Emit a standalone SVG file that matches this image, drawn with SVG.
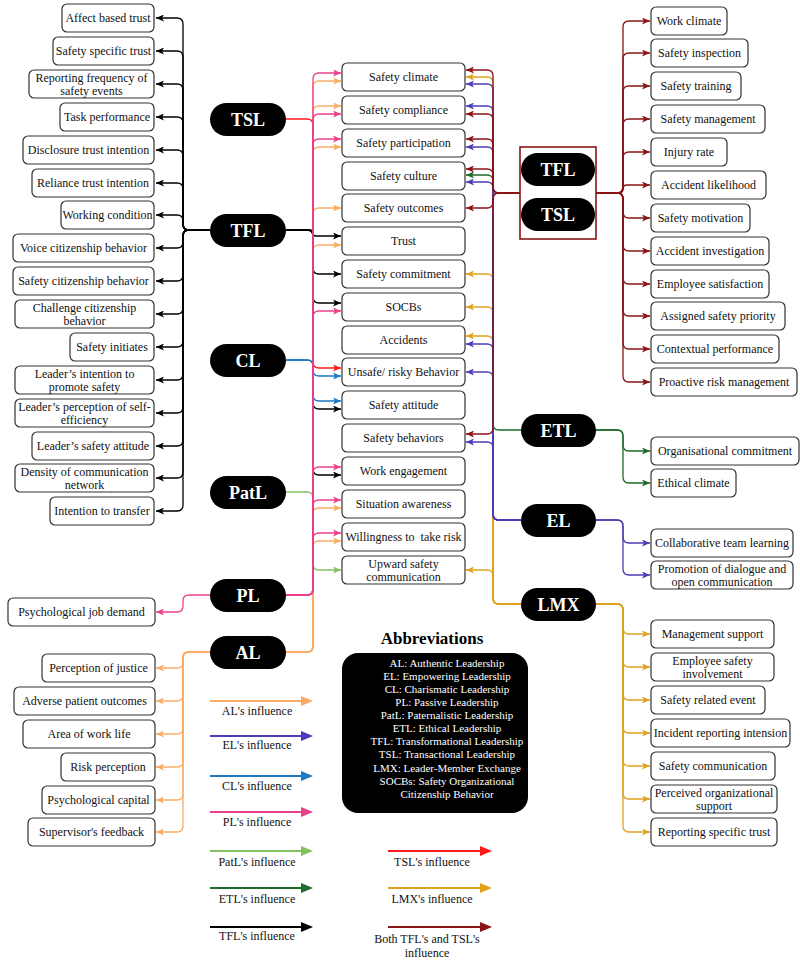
<svg xmlns="http://www.w3.org/2000/svg" width="800" height="960" viewBox="0 0 800 960" font-family="Liberation Serif, Times New Roman, serif">
<style>
.bx{fill:#fff;stroke:#333;stroke-width:1.2}
.t{font-family:Liberation Serif,serif;font-size:12px;fill:#111;text-anchor:middle}
.pill{fill:#000}
.pt{font-family:Liberation Serif,serif;font-size:18px;font-weight:bold;fill:#fff;text-anchor:middle}
.e{fill:none;stroke-width:1.3}
.k{stroke:#000}.r{stroke:#ff1a1a}.b{stroke:#1b78c2}.g{stroke:#82c062}.p{stroke:#ec3f8c}.o{stroke:#fbac64}
.i{stroke:#4b3db5}.dg{stroke:#1e6b2b}.y{stroke:#e0a11e}.dr{stroke:#8b1414}
.lg{fill:none;stroke-width:2}
.ab{font-family:Liberation Serif,serif;font-size:11px;fill:#fff;text-anchor:middle}
</style>
<defs>
<marker id="mk" viewBox="0 0 8 7" refX="8" refY="3.5" markerWidth="8" markerHeight="7" markerUnits="userSpaceOnUse" orient="auto"><path d="M0,0 L8,3.5 L0,7 L2,3.5 Z" fill="#000"/></marker>
<marker id="mr" viewBox="0 0 8 7" refX="8" refY="3.5" markerWidth="8" markerHeight="7" markerUnits="userSpaceOnUse" orient="auto"><path d="M0,0 L8,3.5 L0,7 L2,3.5 Z" fill="#ff1a1a"/></marker>
<marker id="mb" viewBox="0 0 8 7" refX="8" refY="3.5" markerWidth="8" markerHeight="7" markerUnits="userSpaceOnUse" orient="auto"><path d="M0,0 L8,3.5 L0,7 L2,3.5 Z" fill="#1b78c2"/></marker>
<marker id="mg" viewBox="0 0 8 7" refX="8" refY="3.5" markerWidth="8" markerHeight="7" markerUnits="userSpaceOnUse" orient="auto"><path d="M0,0 L8,3.5 L0,7 L2,3.5 Z" fill="#82c062"/></marker>
<marker id="mp" viewBox="0 0 8 7" refX="8" refY="3.5" markerWidth="8" markerHeight="7" markerUnits="userSpaceOnUse" orient="auto"><path d="M0,0 L8,3.5 L0,7 L2,3.5 Z" fill="#ec3f8c"/></marker>
<marker id="mo" viewBox="0 0 8 7" refX="8" refY="3.5" markerWidth="8" markerHeight="7" markerUnits="userSpaceOnUse" orient="auto"><path d="M0,0 L8,3.5 L0,7 L2,3.5 Z" fill="#fbac64"/></marker>
<marker id="mi" viewBox="0 0 8 7" refX="8" refY="3.5" markerWidth="8" markerHeight="7" markerUnits="userSpaceOnUse" orient="auto"><path d="M0,0 L8,3.5 L0,7 L2,3.5 Z" fill="#4b3db5"/></marker>
<marker id="mdg" viewBox="0 0 8 7" refX="8" refY="3.5" markerWidth="8" markerHeight="7" markerUnits="userSpaceOnUse" orient="auto"><path d="M0,0 L8,3.5 L0,7 L2,3.5 Z" fill="#1e6b2b"/></marker>
<marker id="my" viewBox="0 0 8 7" refX="8" refY="3.5" markerWidth="8" markerHeight="7" markerUnits="userSpaceOnUse" orient="auto"><path d="M0,0 L8,3.5 L0,7 L2,3.5 Z" fill="#e0a11e"/></marker>
<marker id="mdr" viewBox="0 0 8 7" refX="8" refY="3.5" markerWidth="8" markerHeight="7" markerUnits="userSpaceOnUse" orient="auto"><path d="M0,0 L8,3.5 L0,7 L2,3.5 Z" fill="#8b1414"/></marker>
<marker id="L-o" viewBox="0 0 12 10" refX="10" refY="5" markerWidth="12" markerHeight="10" markerUnits="userSpaceOnUse" orient="auto"><path d="M0,0 L12,5 L0,10 Z" fill="#fbac64"/></marker>
<marker id="L-i" viewBox="0 0 12 10" refX="10" refY="5" markerWidth="12" markerHeight="10" markerUnits="userSpaceOnUse" orient="auto"><path d="M0,0 L12,5 L0,10 Z" fill="#4b3db5"/></marker>
<marker id="L-b" viewBox="0 0 12 10" refX="10" refY="5" markerWidth="12" markerHeight="10" markerUnits="userSpaceOnUse" orient="auto"><path d="M0,0 L12,5 L0,10 Z" fill="#1b78c2"/></marker>
<marker id="L-p" viewBox="0 0 12 10" refX="10" refY="5" markerWidth="12" markerHeight="10" markerUnits="userSpaceOnUse" orient="auto"><path d="M0,0 L12,5 L0,10 Z" fill="#ec3f8c"/></marker>
<marker id="L-g" viewBox="0 0 12 10" refX="10" refY="5" markerWidth="12" markerHeight="10" markerUnits="userSpaceOnUse" orient="auto"><path d="M0,0 L12,5 L0,10 Z" fill="#82c062"/></marker>
<marker id="L-dg" viewBox="0 0 12 10" refX="10" refY="5" markerWidth="12" markerHeight="10" markerUnits="userSpaceOnUse" orient="auto"><path d="M0,0 L12,5 L0,10 Z" fill="#1e6b2b"/></marker>
<marker id="L-k" viewBox="0 0 12 10" refX="10" refY="5" markerWidth="12" markerHeight="10" markerUnits="userSpaceOnUse" orient="auto"><path d="M0,0 L12,5 L0,10 Z" fill="#000"/></marker>
<marker id="L-r" viewBox="0 0 12 10" refX="10" refY="5" markerWidth="12" markerHeight="10" markerUnits="userSpaceOnUse" orient="auto"><path d="M0,0 L12,5 L0,10 Z" fill="#ff1a1a"/></marker>
<marker id="L-y" viewBox="0 0 12 10" refX="10" refY="5" markerWidth="12" markerHeight="10" markerUnits="userSpaceOnUse" orient="auto"><path d="M0,0 L12,5 L0,10 Z" fill="#e0a11e"/></marker>
<marker id="L-dr" viewBox="0 0 12 10" refX="10" refY="5" markerWidth="12" markerHeight="10" markerUnits="userSpaceOnUse" orient="auto"><path d="M0,0 L12,5 L0,10 Z" fill="#8b1414"/></marker>
</defs>
<rect width="800" height="960" fill="#fff"/>

<g id="connectors">
<g class="e k" marker-end="url(#mk)">
<path d="M210,230 H189 Q183,230 183,224 V24 Q183,18 177,18 H156"/>
<path d="M210,230 H189 Q183,230 183,224 V57 Q183,51 177,51 H156"/>
<path d="M210,230 H189 Q183,230 183,224 V90 Q183,84 177,84 H156"/>
<path d="M210,230 H189 Q183,230 183,224 V123 Q183,117 177,117 H156"/>
<path d="M210,230 H189 Q183,230 183,224 V156 Q183,150 177,150 H156"/>
<path d="M210,230 H189 Q183,230 183,224 V189 Q183,183 177,183 H156"/>
<path d="M210,230 H189 Q183,230 183,224 V221 Q183,215 177,215 H156"/>
<path d="M210,230 H189 Q183,230 183,236 V242 Q183,248 177,248 H156"/>
<path d="M210,230 H189 Q183,230 183,236 V275 Q183,281 177,281 H156"/>
<path d="M210,230 H189 Q183,230 183,236 V308 Q183,314 177,314 H156"/>
<path d="M210,230 H189 Q183,230 183,236 V341 Q183,347 177,347 H156"/>
<path d="M210,230 H189 Q183,230 183,236 V374 Q183,380 177,380 H156"/>
<path d="M210,230 H189 Q183,230 183,236 V407 Q183,413 177,413 H156"/>
<path d="M210,230 H189 Q183,230 183,236 V440 Q183,446 177,446 H156"/>
<path d="M210,230 H189 Q183,230 183,236 V472 Q183,478 177,478 H156"/>
<path d="M210,230 H189 Q183,230 183,236 V505 Q183,511 177,511 H156"/>
</g>
<path class="e p" marker-end="url(#mp)" d="M210,595 H189 Q183,595 183,601 V606 Q183,612 177,612 H156"/>
<g class="e o" marker-end="url(#mo)">
<path d="M210,652 H189 Q183,652 183,658 V662 Q183,668 177,668 H156"/>
<path d="M210,652 H189 Q183,652 183,658 V695 Q183,701 177,701 H156"/>
<path d="M210,652 H189 Q183,652 183,658 V728 Q183,734 177,734 H156"/>
<path d="M210,652 H189 Q183,652 183,658 V761 Q183,767 177,767 H156"/>
<path d="M210,652 H189 Q183,652 183,658 V794 Q183,800 177,800 H156"/>
<path d="M210,652 H189 Q183,652 183,658 V826 Q183,832 177,832 H156"/>
</g>
<g class="e o" marker-end="url(#mo)">
<path d="M286,652 H307 Q313,652 313,646 V87 Q313,81 319,81 H341"/>
<path d="M286,652 H307 Q313,652 313,646 V112 Q313,106 319,106 H341"/>
<path d="M286,652 H307 Q313,652 313,646 V153 Q313,147 319,147 H341"/>
<path d="M286,652 H307 Q313,652 313,646 V214 Q313,208 319,208 H341"/>
<path d="M286,652 H307 Q313,652 313,646 V251 Q313,245 319,245 H341"/>
<path d="M286,652 H307 Q313,652 313,646 V514 Q313,508 319,508 H341"/>
<path d="M286,652 H307 Q313,652 313,646 V547 Q313,541 319,541 H341"/>
</g>
<path class="e r" marker-end="url(#mr)" d="M286,119 H307 Q313,119 313,125 V362 Q313,368 319,368 H341"/>
<g class="e k" marker-end="url(#mk)">
<path d="M286,230 H310 Q313,230 313,233 Q313,236 316,236 H341"/>
<path d="M286,230 H307 Q313,230 313,236 V268 Q313,274 319,274 H341"/>
<path d="M286,230 H307 Q313,230 313,236 V297 Q313,303 319,303 H341"/>
<path d="M286,230 H307 Q313,230 313,236 V403 Q313,409 319,409 H341"/>
<path d="M286,230 H307 Q313,230 313,236 V469 Q313,475 319,475 H341"/>
</g>
<g class="e b" marker-end="url(#mb)">
<path d="M286,360 H307 Q313,360 313,366 V370 Q313,376 319,376 H341"/>
<path d="M286,360 H307 Q313,360 313,366 V395 Q313,401 319,401 H341"/>
</g>
<path class="e g" marker-end="url(#mg)" d="M286,492 H307 Q313,492 313,498 V564 Q313,570 319,570 H341"/>
<g class="e p" marker-end="url(#mp)">
<path d="M286,595 H307 Q313,595 313,589 V79 Q313,73 319,73 H341"/>
<path d="M286,595 H307 Q313,595 313,589 V120 Q313,114 319,114 H341"/>
<path d="M286,595 H307 Q313,595 313,589 V145 Q313,139 319,139 H341"/>
<path d="M286,595 H307 Q313,595 313,589 V317 Q313,311 319,311 H341"/>
<path d="M286,595 H307 Q313,595 313,589 V473 Q313,467 319,467 H341"/>
<path d="M286,595 H307 Q313,595 313,589 V506 Q313,500 319,500 H341"/>
<path d="M286,595 H307 Q313,595 313,589 V539 Q313,533 319,533 H341"/>
</g>
<g class="e y" marker-end="url(#my)">
<path d="M521,604 H499 Q493,604 493,598 V83 Q493,77 487,77 H466"/>
<path d="M521,604 H499 Q493,604 493,598 V280 Q493,274 487,274 H466"/>
<path d="M521,604 H499 Q493,604 493,598 V313 Q493,307 487,307 H466"/>
<path d="M521,604 H499 Q493,604 493,598 V342 Q493,336 487,336 H466"/>
<path d="M521,604 H499 Q493,604 493,598 V576 Q493,570 487,570 H466"/>
</g>
<path class="e dg" marker-end="url(#mdg)" d="M521,430 H499 Q493,430 493,424 V181 Q493,175 487,175 H466"/>
<g class="e i" marker-end="url(#mi)">
<path d="M521,520 H499 Q493,520 493,514 V90 Q493,84 487,84 H466"/>
<path d="M521,520 H499 Q493,520 493,514 V112 Q493,106 487,106 H466"/>
<path d="M521,520 H499 Q493,520 493,514 V153 Q493,147 487,147 H466"/>
<path d="M521,520 H499 Q493,520 493,514 V188 Q493,182 487,182 H466"/>
<path d="M521,520 H499 Q493,520 493,514 V350 Q493,344 487,344 H466"/>
<path d="M521,520 H499 Q493,520 493,514 V378 Q493,372 487,372 H466"/>
<path d="M521,520 H499 Q493,520 493,514 V448 Q493,442 487,442 H466"/>
</g>
<g class="e dr" marker-end="url(#mdr)">
<path d="M520,193 H499 Q493,193 493,187 V76 Q493,70 487,70 H466"/>
<path d="M520,193 H499 Q493,193 493,187 V120 Q493,114 487,114 H466"/>
<path d="M520,193 H499 Q493,193 493,187 V145 Q493,139 487,139 H466"/>
<path d="M520,193 H499 Q493,193 493,187 V175 Q493,169 487,169 H466"/>
<path d="M520,193 H499 Q493,193 493,199 V202 Q493,208 487,208 H466"/>
<path d="M520,193 H499 Q493,193 493,199 V428 Q493,434 487,434 H466"/>
</g>
<g class="e dr" marker-end="url(#mdr)">
<path d="M596,193 H617 Q623,193 623,187 V27 Q623,21 629,21 H650"/>
<path d="M596,193 H617 Q623,193 623,187 V59 Q623,53 629,53 H650"/>
<path d="M596,193 H617 Q623,193 623,187 V92 Q623,86 629,86 H650"/>
<path d="M596,193 H617 Q623,193 623,187 V125 Q623,119 629,119 H650"/>
<path d="M596,193 H617 Q623,193 623,187 V158 Q623,152 629,152 H650"/>
<path d="M596,193 H619 Q623,193 623,189 Q623,185 627,185 H650"/>
<path d="M596,193 H617 Q623,193 623,199 V212 Q623,218 629,218 H650"/>
<path d="M596,193 H617 Q623,193 623,199 V245 Q623,251 629,251 H650"/>
<path d="M596,193 H617 Q623,193 623,199 V278 Q623,284 629,284 H650"/>
<path d="M596,193 H617 Q623,193 623,199 V310 Q623,316 629,316 H650"/>
<path d="M596,193 H617 Q623,193 623,199 V343 Q623,349 629,349 H650"/>
<path d="M596,193 H617 Q623,193 623,199 V376 Q623,382 629,382 H650"/>
</g>
<g class="e dg" marker-end="url(#mdg)">
<path d="M596,430 H617 Q623,430 623,436 V445 Q623,451 629,451 H650"/>
<path d="M596,430 H617 Q623,430 623,436 V477 Q623,483 629,483 H650"/>
</g>
<g class="e i" marker-end="url(#mi)">
<path d="M596,520 H617 Q623,520 623,526 V537 Q623,543 629,543 H650"/>
<path d="M596,520 H617 Q623,520 623,526 V569 Q623,575 629,575 H650"/>
</g>
<g class="e y" marker-end="url(#my)">
<path d="M596,604 H617 Q623,604 623,610 V628 Q623,634 629,634 H650"/>
<path d="M596,604 H617 Q623,604 623,610 V661 Q623,667 629,667 H650"/>
<path d="M596,604 H617 Q623,604 623,610 V694 Q623,700 629,700 H650"/>
<path d="M596,604 H617 Q623,604 623,610 V727 Q623,733 629,733 H650"/>
<path d="M596,604 H617 Q623,604 623,610 V760 Q623,766 629,766 H650"/>
<path d="M596,604 H617 Q623,604 623,610 V793 Q623,799 629,799 H650"/>
<path d="M596,604 H617 Q623,604 623,610 V826 Q623,832 629,832 H650"/>
</g>
</g>

<g id="n-affect"><rect class="bx" x="62" y="4" width="92" height="28" rx="5"/><text class="t" x="108" y="22">Affect based trust</text></g>
<g id="n-sst"><rect class="bx" x="53" y="37" width="101" height="28" rx="5"/><text class="t" x="103.5" y="55">Safety specific trust</text></g>
<g id="n-rep"><rect class="bx" x="29" y="70" width="125" height="28" rx="5"/><text class="t" x="91.5" y="82">Reporting frequency of</text><text class="t" x="91.5" y="95">safety events</text></g>
<g id="n-task"><rect class="bx" x="60" y="103" width="94" height="28" rx="5"/><text class="t" x="107" y="121">Task performance</text></g>
<g id="n-disc"><rect class="bx" x="23" y="136" width="131" height="28" rx="5"/><text class="t" x="88.5" y="154">Disclosure trust intention</text></g>
<g id="n-rel"><rect class="bx" x="32" y="169" width="122" height="28" rx="5"/><text class="t" x="93" y="187">Reliance trust intention</text></g>
<g id="n-work"><rect class="bx" x="61" y="201" width="93" height="28" rx="5"/><text class="t" x="107.5" y="219">Working condition</text></g>
<g id="n-voice"><rect class="bx" x="13" y="234" width="141" height="28" rx="5"/><text class="t" x="83.5" y="252">Voice citizenship behavior</text></g>
<g id="n-scb"><rect class="bx" x="13" y="267" width="141" height="28" rx="5"/><text class="t" x="83.5" y="285">Safety citizenship behavior</text></g>
<g id="n-chal"><rect class="bx" x="15" y="300" width="139" height="28" rx="5"/><text class="t" x="84.5" y="312">Challenge citizenship</text><text class="t" x="84.5" y="325">behavior</text></g>
<g id="n-init"><rect class="bx" x="70" y="333" width="84" height="28" rx="5"/><text class="t" x="112" y="351">Safety initiates</text></g>
<g id="n-lint"><rect class="bx" x="15" y="366" width="139" height="28" rx="5"/><text class="t" x="84.5" y="378">Leader’s intention to</text><text class="t" x="84.5" y="391">promote safety</text></g>
<g id="n-lper"><rect class="bx" x="15" y="399" width="139" height="28" rx="5"/><text class="t" x="84.5" y="411">Leader’s perception of self-</text><text class="t" x="84.5" y="424">efficiency</text></g>
<g id="n-latt"><rect class="bx" x="32" y="432" width="122" height="28" rx="5"/><text class="t" x="93" y="450">Leader’s safety attitude</text></g>
<g id="n-dens"><rect class="bx" x="15" y="464" width="139" height="28" rx="5"/><text class="t" x="84.5" y="476">Density of communication</text><text class="t" x="84.5" y="489">network</text></g>
<g id="n-itt"><rect class="bx" x="50" y="497" width="104" height="28" rx="5"/><text class="t" x="102" y="515">Intention to transfer</text></g>
<g id="n-pjd"><rect class="bx" x="8" y="598" width="147" height="28" rx="5"/><text class="t" x="81.5" y="616">Psychological job demand</text></g>
<g id="n-poj"><rect class="bx" x="42" y="654" width="113" height="28" rx="5"/><text class="t" x="98.5" y="672">Perception of justice</text></g>
<g id="n-apo"><rect class="bx" x="14" y="687" width="141" height="28" rx="5"/><text class="t" x="84.5" y="705">Adverse patient outcomes</text></g>
<g id="n-awl"><rect class="bx" x="23" y="720" width="132" height="28" rx="5"/><text class="t" x="89" y="738">Area of work life</text></g>
<g id="n-rp"><rect class="bx" x="61" y="753" width="94" height="28" rx="5"/><text class="t" x="108" y="771">Risk perception</text></g>
<g id="n-pc"><rect class="bx" x="42" y="786" width="113" height="28" rx="5"/><text class="t" x="98.5" y="804">Psychological capital</text></g>
<g id="n-sf"><rect class="bx" x="28" y="818" width="127" height="28" rx="5"/><text class="t" x="91.5" y="836">Supervisor's feedback</text></g>

<g id="p-tsl"><rect class="pill" x="210" y="103" width="76" height="33" rx="16.5"/><text class="pt" x="248" y="126">TSL</text></g>
<g id="p-tfl"><rect class="pill" x="210" y="214" width="76" height="33" rx="16.5"/><text class="pt" x="248" y="237">TFL</text></g>
<g id="p-cl"><rect class="pill" x="210" y="344" width="76" height="33" rx="16.5"/><text class="pt" x="248" y="367">CL</text></g>
<g id="p-patl"><rect class="pill" x="210" y="476" width="76" height="33" rx="16.5"/><text class="pt" x="248" y="499">PatL</text></g>
<g id="p-pl"><rect class="pill" x="210" y="579" width="76" height="33" rx="16.5"/><text class="pt" x="248" y="602">PL</text></g>
<g id="p-al"><rect class="pill" x="210" y="636" width="76" height="33" rx="16.5"/><text class="pt" x="248" y="659">AL</text></g>

<g id="c-climate"><rect class="bx" x="342" y="63" width="123" height="28" rx="5"/><text class="t" x="403.5" y="81">Safety climate</text></g>
<g id="c-compl"><rect class="bx" x="342" y="96" width="123" height="28" rx="5"/><text class="t" x="403.5" y="114">Safety compliance</text></g>
<g id="c-part"><rect class="bx" x="342" y="129" width="123" height="28" rx="5"/><text class="t" x="403.5" y="147">Safety participation</text></g>
<g id="c-cult"><rect class="bx" x="342" y="162" width="123" height="28" rx="5"/><text class="t" x="403.5" y="180">Safety culture</text></g>
<g id="c-out"><rect class="bx" x="342" y="194" width="123" height="28" rx="5"/><text class="t" x="403.5" y="212">Safety outcomes</text></g>
<g id="c-trust"><rect class="bx" x="342" y="227" width="123" height="28" rx="5"/><text class="t" x="403.5" y="245">Trust</text></g>
<g id="c-commit"><rect class="bx" x="342" y="260" width="123" height="28" rx="5"/><text class="t" x="403.5" y="278">Safety commitment</text></g>
<g id="c-socb"><rect class="bx" x="342" y="293" width="123" height="28" rx="5"/><text class="t" x="403.5" y="311">SOCBs</text></g>
<g id="c-acc"><rect class="bx" x="342" y="326" width="123" height="28" rx="5"/><text class="t" x="403.5" y="344">Accidents</text></g>
<g id="c-unsafe"><rect class="bx" x="342" y="358" width="123" height="28" rx="5"/><text class="t" x="403.5" y="376">Unsafe/ risky Behavior</text></g>
<g id="c-att"><rect class="bx" x="342" y="391" width="123" height="28" rx="5"/><text class="t" x="403.5" y="409">Safety attitude</text></g>
<g id="c-beh"><rect class="bx" x="342" y="424" width="123" height="28" rx="5"/><text class="t" x="403.5" y="442">Safety behaviors</text></g>
<g id="c-eng"><rect class="bx" x="342" y="457" width="123" height="28" rx="5"/><text class="t" x="403.5" y="475">Work engagement</text></g>
<g id="c-sit"><rect class="bx" x="342" y="490" width="123" height="28" rx="5"/><text class="t" x="403.5" y="508">Situation awareness</text></g>
<g id="c-will"><rect class="bx" x="342" y="523" width="123" height="28" rx="5"/><text class="t" x="403.5" y="541" style="white-space:pre">Willingness to  take risk</text></g>
<g id="c-up"><rect class="bx" x="342" y="556" width="123" height="28" rx="5"/><text class="t" x="403.5" y="568">Upward safety</text><text class="t" x="403.5" y="581">communication</text></g>

<g id="p-tfltsl"><rect x="520" y="147" width="76" height="92" fill="#fff" stroke="#8b1414" stroke-width="1.6"/>
<rect class="pill" x="521" y="153" width="74" height="33" rx="16.5"/><text class="pt" x="558" y="176">TFL</text>
<rect class="pill" x="521" y="198" width="74" height="33" rx="16.5"/><text class="pt" x="558" y="221">TSL</text></g>
<g id="p-etl"><rect class="pill" x="521" y="414" width="75" height="33" rx="16.5"/><text class="pt" x="558.5" y="437">ETL</text></g>
<g id="p-el"><rect class="pill" x="521" y="504" width="75" height="33" rx="16.5"/><text class="pt" x="558.5" y="527">EL</text></g>
<g id="p-lmx"><rect class="pill" x="521" y="588" width="75" height="33" rx="16.5"/><text class="pt" x="558.5" y="611">LMX</text></g>

<g id="r-wc"><rect class="bx" x="651" y="7" width="76" height="28" rx="5"/><text class="t" x="689" y="25">Work climate</text></g>
<g id="r-si"><rect class="bx" x="651" y="39" width="97" height="28" rx="5"/><text class="t" x="699.5" y="57">Safety inspection</text></g>
<g id="r-st"><rect class="bx" x="651" y="72" width="90" height="28" rx="5"/><text class="t" x="696" y="90">Safety training</text></g>
<g id="r-sm"><rect class="bx" x="651" y="105" width="114" height="28" rx="5"/><text class="t" x="708" y="123">Safety management</text></g>
<g id="r-ir"><rect class="bx" x="651" y="138" width="76" height="28" rx="5"/><text class="t" x="689" y="156">Injury rate</text></g>
<g id="r-al"><rect class="bx" x="651" y="171" width="115" height="28" rx="5"/><text class="t" x="708.5" y="189">Accident likelihood</text></g>
<g id="r-smo"><rect class="bx" x="651" y="204" width="99" height="28" rx="5"/><text class="t" x="700.5" y="222">Safety motivation</text></g>
<g id="r-ai"><rect class="bx" x="651" y="237" width="118" height="28" rx="5"/><text class="t" x="710" y="255">Accident investigation</text></g>
<g id="r-es"><rect class="bx" x="651" y="270" width="118" height="28" rx="5"/><text class="t" x="710" y="288">Employee satisfaction</text></g>
<g id="r-asp"><rect class="bx" x="651" y="302" width="134" height="28" rx="5"/><text class="t" x="718" y="320">Assigned safety priority</text></g>
<g id="r-cp"><rect class="bx" x="651" y="335" width="128" height="28" rx="5"/><text class="t" x="715" y="353">Contextual performance</text></g>
<g id="r-prm"><rect class="bx" x="651" y="368" width="146" height="28" rx="5"/><text class="t" x="724" y="386">Proactive risk management</text></g>
<g id="r-oc"><rect class="bx" x="651" y="437" width="148" height="28" rx="5"/><text class="t" x="725" y="455">Organisational commitment</text></g>
<g id="r-ec"><rect class="bx" x="651" y="469" width="85" height="28" rx="5"/><text class="t" x="693.5" y="487">Ethical climate</text></g>
<g id="r-ctl"><rect class="bx" x="651" y="529" width="142" height="28" rx="5"/><text class="t" x="722" y="547">Collaborative team learning</text></g>
<g id="r-pdo"><rect class="bx" x="651" y="561" width="142" height="28" rx="5"/><text class="t" x="722" y="573">Promotion of dialogue and</text><text class="t" x="722" y="586">open communication</text></g>
<g id="r-ms"><rect class="bx" x="651" y="620" width="123" height="28" rx="5"/><text class="t" x="712.5" y="638">Management support</text></g>
<g id="r-esi"><rect class="bx" x="651" y="653" width="123" height="28" rx="5"/><text class="t" x="712.5" y="665">Employee safety</text><text class="t" x="712.5" y="678">involvement</text></g>
<g id="r-sre"><rect class="bx" x="651" y="686" width="114" height="28" rx="5"/><text class="t" x="708" y="704">Safety related event</text></g>
<g id="r-iri"><rect class="bx" x="651" y="719" width="139" height="28" rx="5"/><text class="t" x="720.5" y="737">Incident reporting intension</text></g>
<g id="r-sc"><rect class="bx" x="651" y="752" width="124" height="28" rx="5"/><text class="t" x="713" y="770">Safety communication</text></g>
<g id="r-pos"><rect class="bx" x="651" y="785" width="126" height="28" rx="5"/><text class="t" x="714" y="797">Perceived organizational</text><text class="t" x="714" y="810">support</text></g>
<g id="r-rst"><rect class="bx" x="651" y="818" width="126" height="28" rx="5"/><text class="t" x="714" y="836">Reporting specific trust</text></g>

<g id="abbrev">
<text x="432" y="644" font-size="17" font-weight="bold" text-anchor="middle" fill="#000">Abbreviations</text>
<rect x="342" y="653" width="186" height="160" rx="16" fill="#000"/>
<text class="ab" x="447" y="667">AL: Authentic Leadership</text>
<text class="ab" x="447" y="680">EL: Empowering Leadership</text>
<text class="ab" x="447" y="693">CL: Charismatic Leadership</text>
<text class="ab" x="447" y="706">PL: Passive Leadership</text>
<text class="ab" x="447" y="719">PatL: Paternalistic Leadership</text>
<text class="ab" x="447" y="732">ETL: Ethical Leadership</text>
<text class="ab" x="447" y="745">TFL: Transformational Leadership</text>
<text class="ab" x="447" y="758">TSL: Transactional Leadership</text>
<text class="ab" x="447" y="772">LMX: Leader-Member Exchange</text>
<text class="ab" x="447" y="785">SOCBs: Safety Organizational</text>
<text class="ab" x="447" y="798">Citizenship Behavior</text>
</g>

<g id="legend">
<path class="lg" stroke="#fbac64" marker-end="url(#L-o)" d="M210,701 H311"/><text class="t" x="257" y="715">AL's influence</text>
<path class="lg" stroke="#4b3db5" marker-end="url(#L-i)" d="M210,736 H311"/><text class="t" x="257" y="749">EL's influence</text>
<path class="lg" stroke="#1b78c2" marker-end="url(#L-b)" d="M210,776 H311"/><text class="t" x="257" y="790">CL's influence</text>
<path class="lg" stroke="#ec3f8c" marker-end="url(#L-p)" d="M210,812 H311"/><text class="t" x="257" y="826">PL's influence</text>
<path class="lg" stroke="#82c062" marker-end="url(#L-g)" d="M210,851 H311"/><text class="t" x="257" y="866">PatL's influence</text>
<path class="lg" stroke="#1e6b2b" marker-end="url(#L-dg)" d="M210,888 H311"/><text class="t" x="257" y="903">ETL's influence</text>
<path class="lg" stroke="#000" marker-end="url(#L-k)" d="M210,927 H311"/><text class="t" x="257" y="940">TFL's influence</text>
<path class="lg" stroke="#ff1a1a" marker-end="url(#L-r)" d="M388,851 H490"/><text class="t" x="432" y="866">TSL's influence</text>
<path class="lg" stroke="#e0a11e" marker-end="url(#L-y)" d="M388,888 H490"/><text class="t" x="432" y="903">LMX's influence</text>
<path class="lg" stroke="#8b1414" marker-end="url(#L-dr)" d="M388,927 H490"/><text class="t" x="427" y="943">Both TFL's and TSL's</text><text class="t" x="427" y="957">influence</text>
</g>
</svg>
